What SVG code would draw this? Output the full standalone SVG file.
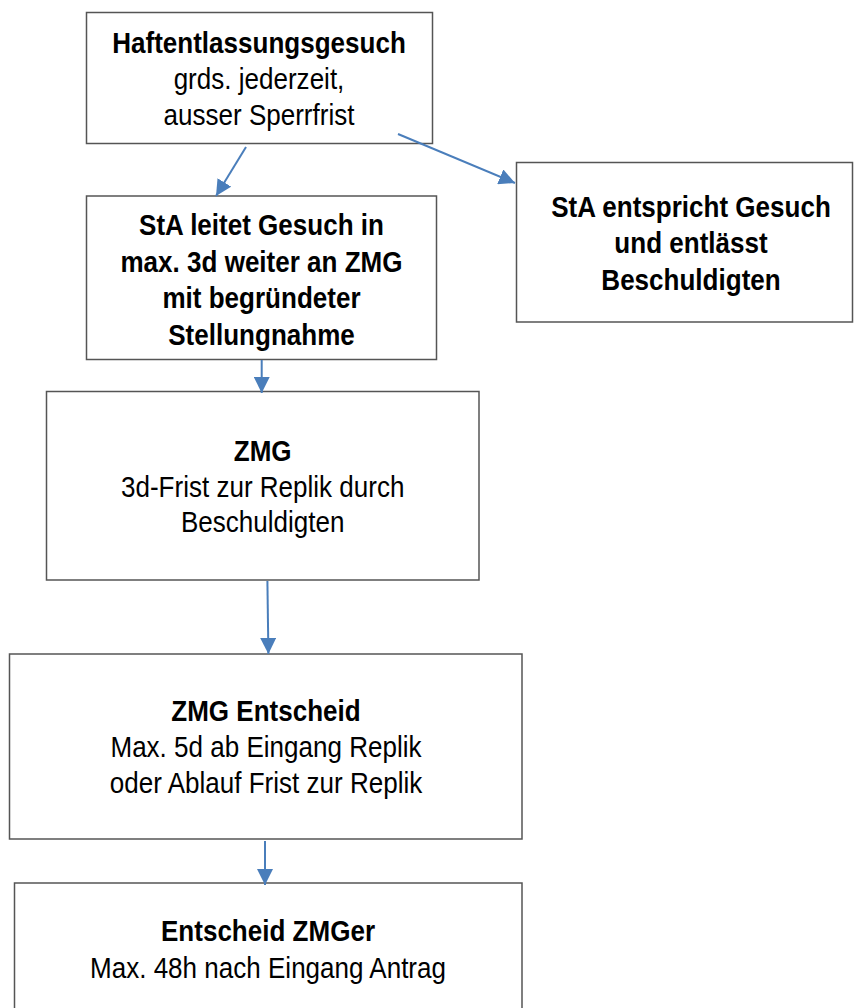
<svg xmlns="http://www.w3.org/2000/svg" width="854" height="1008" viewBox="0 0 854 1008">
<defs>
<style>
.box{fill:#fff;stroke:#555;stroke-width:1.5}
.t{font-family:"Liberation Sans",Arial,sans-serif;font-size:30px;fill:#000;text-anchor:middle}
.b{font-weight:bold}
.c{stroke:#4a7ebb;stroke-width:2;fill:none;marker-end:url(#ah)}
</style>
<marker id="ah" markerUnits="userSpaceOnUse" markerWidth="16" markerHeight="16" refX="15" refY="7.5" orient="auto" viewBox="0 0 15 15">
<path d="M0,0 L15,7.5 L0,15 z" fill="#4a7ebb"/>
</marker>
</defs>
<rect width="854" height="1008" fill="#fff"/>
<g id="n1">
<rect class="box" x="86.5" y="12.5" width="346" height="131"/>
<g transform="translate(259,0) scale(0.868,1)">
<text class="t b" x="0" y="53">Haftentlassungsgesuch</text>
<text class="t" x="0" y="89.5">grds. jederzeit,</text>
<text class="t" x="0" y="125">ausser Sperrfrist</text>
</g>
</g>
<g id="n2">
<rect class="box" x="86.5" y="196" width="350" height="163.5"/>
<g transform="translate(261.5,0) scale(0.868,1)">
<text class="t b" x="0" y="235">StA leitet Gesuch in</text>
<text class="t b" x="0" y="271.7">max. 3d weiter an ZMG</text>
<text class="t b" x="0" y="308.3">mit begründeter</text>
<text class="t b" x="0" y="345">Stellungnahme</text>
</g>
</g>
<g id="n3">
<rect class="box" x="516.5" y="162.5" width="336" height="159.5"/>
<g transform="translate(691,0) scale(0.868,1)">
<text class="t b" x="0" y="216.7">StA entspricht Gesuch</text>
<text class="t b" x="0" y="253.3">und entlässt</text>
<text class="t b" x="0" y="290">Beschuldigten</text>
</g>
</g>
<g id="n4">
<rect class="box" x="46.5" y="391.5" width="432.5" height="188.5"/>
<g transform="translate(262.7,0) scale(0.868,1)">
<text class="t b" x="0" y="461">ZMG</text>
<text class="t" x="0" y="497">3d-Frist zur Replik durch</text>
<text class="t" x="0" y="532">Beschuldigten</text>
</g>
</g>
<g id="n5">
<rect class="box" x="9.5" y="654" width="512.5" height="185"/>
<g transform="translate(266,0) scale(0.868,1)">
<text class="t b" x="0" y="721">ZMG Entscheid</text>
<text class="t" x="0" y="757">Max. 5d ab Eingang Replik</text>
<text class="t" x="0" y="793">oder Ablauf Frist zur Replik</text>
</g>
</g>
<g id="n6">
<rect class="box" x="14.5" y="883" width="507.5" height="140"/>
<g transform="translate(268,0) scale(0.868,1)">
<text class="t b" x="0" y="941">Entscheid ZMGer</text>
<text class="t" x="0" y="978">Max. 48h nach Eingang Antrag</text>
</g>
</g>
<g id="connectors">
<line class="c" x1="246" y1="147" x2="216" y2="196"/>
<line class="c" x1="398" y1="134" x2="515" y2="183"/>
<line class="c" x1="261.7" y1="360" x2="261.7" y2="393"/>
<line class="c" x1="267.4" y1="581" x2="268.4" y2="654"/>
<line class="c" x1="265" y1="841" x2="265" y2="885"/>
</g>
</svg>
